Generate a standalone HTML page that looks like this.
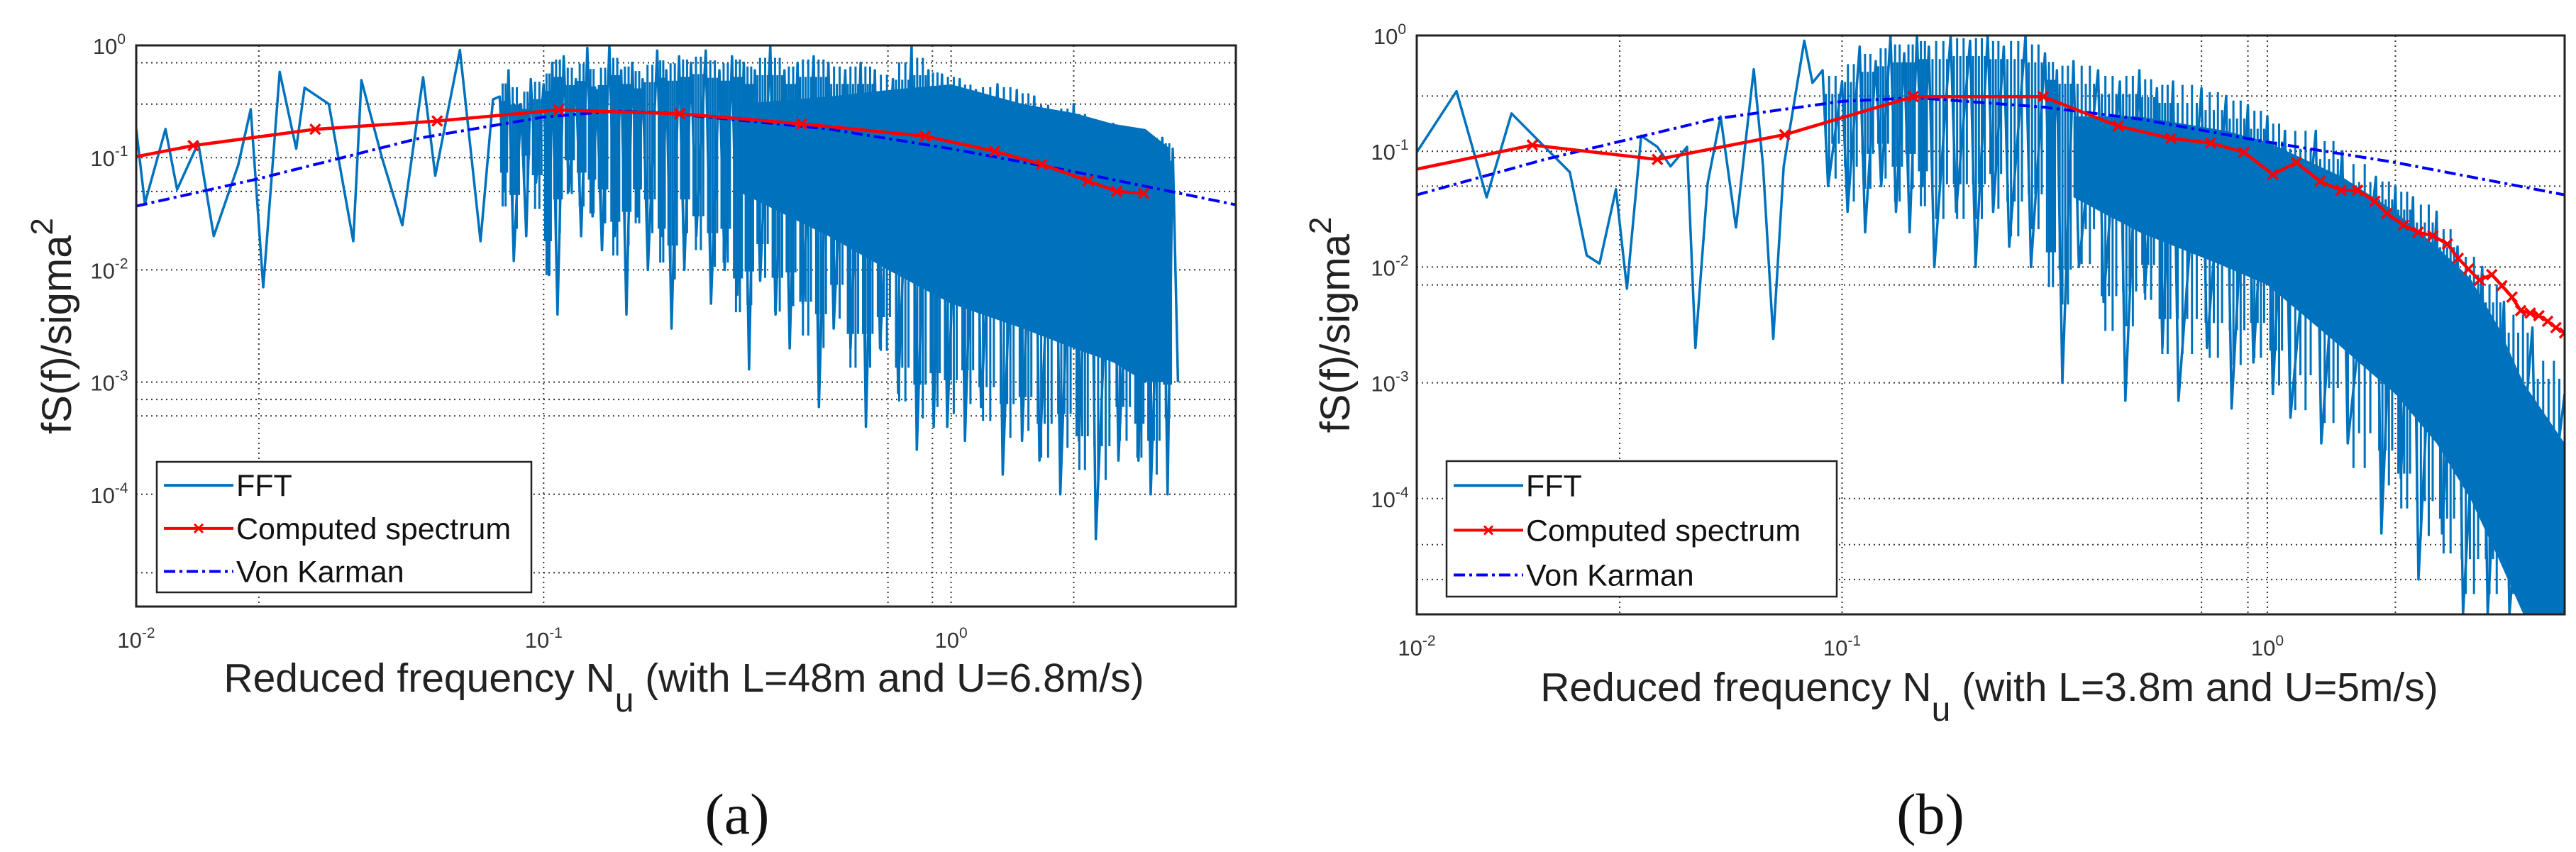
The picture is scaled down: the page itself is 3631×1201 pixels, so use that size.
<!DOCTYPE html>
<html><head><meta charset="utf-8"><style>
html,body{margin:0;padding:0;background:#fff;}
svg{display:block;font-family:"Liberation Sans",sans-serif;}
</style></head><body>
<svg id="fig" width="3631" height="1201" viewBox="0 0 3631 1201" xmlns="http://www.w3.org/2000/svg"></svg>
<script>
// ---------- Panel A data ----------
const aLowFreq=[0.01,0.0105,0.0118,0.0126,0.0142,0.0155,0.0178,0.0191,0.0205,0.0225,0.0247,0.0259,0.0297,0.0341,0.0357,0.0401,0.045,0.0506,0.0542,0.0623,0.07,0.0751];
const aLowVal=[0.18,0.039,0.18,0.052,0.135,0.02,0.086,0.27,0.007,0.58,0.12,0.42,0.3,0.018,0.49,0.10,0.025,0.52,0.069,0.91,0.018,0.33];
const aSpikeFreq=[0.078,0.082,0.088,0.093,0.1,0.105,0.112,0.12,0.128,0.135,0.145,0.155,0.165,0.175,0.19,0.2,0.215,0.23,0.25,0.27,0.29,0.31,0.33,0.36,0.39,0.42,0.46,0.5,0.55,0.6,0.65,0.72,0.8,0.88,0.95,1.05,1.15,1.3,1.45,1.6,1.8,2.0,2.2,2.5,2.8,3.0,3.3,3.5];
const aSpikeHi=[0.35,0.6,0.3,0.5,0.45,0.7,0.8,0.5,0.95,0.4,1.0,0.6,0.7,0.5,0.9,0.6,0.8,0.7,0.9,0.6,0.8,0.7,0.6,1.0,0.6,0.7,0.8,0.7,0.6,0.7,0.6,0.5,1.0,0.6,0.55,0.5,0.4,0.45,0.4,0.35,0.25,0.3,0.2,0.2,0.18,0.15,0.15,0.12];
const aSpikeLo=[0.05,0.012,0.02,0.06,0.009,0.004,0.05,0.02,0.03,0.015,0.02,0.004,0.03,0.01,0.02,0.003,0.01,0.02,0.005,0.01,0.006,0.0013,0.008,0.004,0.002,0.005,0.0006,0.003,0.002,0.0004,0.002,0.0008,0.00025,0.0004,0.0004,0.0003,0.0006,0.00015,0.0003,0.0002,0.0001,0.0003,0.00004,0.0002,0.0002,0.0001,0.0001,0.001];
const aBandFreq=[0.3,0.5,0.7,1.0,1.5,2.0,2.5,3.0,3.45];
const aBandTop=[0.3,0.35,0.4,0.45,0.3,0.25,0.2,0.18,0.12];
const aBandBot=[0.05,0.02,0.01,0.005,0.003,0.002,0.0015,0.001,0.001];
const aCompFreq=[0.01,0.0138,0.0275,0.0548,0.1088,0.216,0.43,0.864,1.28,1.67,2.17,2.55,2.97];
const aCompVal=[0.102,0.128,0.179,0.212,0.266,0.246,0.2,0.155,0.114,0.087,0.062,0.05,0.048];
const aVkFreq=[0.01,0.02,0.05,0.1,0.15,0.2,0.5,1,2,5];
const aVkVal=[0.037,0.065,0.15,0.23,0.26,0.25,0.18,0.12,0.075,0.038];
// ---------- Panel B data ----------
const bLowFreq=[0.01,0.0124,0.0146,0.0167,0.0229,0.0251,0.0269,0.0294,0.0312,0.0337,0.0368,0.0395,0.0432,0.0452,0.0483,0.0518,0.0563,0.062,0.0652,0.0689,0.0729,0.0815,0.0852];
const bLowVal=[0.098,0.33,0.04,0.212,0.066,0.0126,0.0107,0.047,0.0065,0.136,0.109,0.074,0.109,0.002,0.053,0.2,0.022,0.51,0.074,0.0024,0.074,0.9,0.39];
const bSpikeFreq=[0.09,0.1,0.11,0.12,0.13,0.14,0.15,0.16,0.18,0.2,0.22,0.24,0.27,0.3,0.32,0.35,0.4,0.45,0.5,0.55,0.6,0.7,0.8,0.9,1.0,1.1,1.3,1.5,1.8,2.0,2.2,2.5,2.8,3.2,3.6,4.2,5];
const bSpikeHi=[0.5,0.4,0.8,0.6,1,0.7,1,0.8,1,0.9,1,0.8,1,0.7,0.5,0.6,0.5,0.4,0.5,0.35,0.4,0.35,0.3,0.25,0.2,0.15,0.15,0.1,0.06,0.05,0.04,0.03,0.015,0.01,0.005,0.003,0.0008];
const bSpikeLo=[0.05,0.03,0.02,0.05,0.03,0.02,0.05,0.01,0.03,0.01,0.03,0.015,0.01,0.02,0.001,0.01,0.005,0.0007,0.006,0.002,0.0007,0.002,0.0006,0.0015,0.0008,0.0005,0.0003,0.0003,0.00005,0.00015,0.00002,0.00005,0.00001,0.00001,0.00001,0.00001,0.00001];
const bBandFreq=[0.35,0.5,0.8,1.0,1.5,2,2.5,3,3.5,4,5];
const bBandTop=[0.2,0.2,0.15,0.12,0.06,0.03,0.015,0.008,0.003,0.001,0.0003];
const bBandBot=[0.04,0.02,0.01,0.007,0.002,0.0008,0.0003,0.0001,0.00003,0.00001,0.00001];
const bCompFreq=[0.01,0.0187,0.0368,0.0733,0.147,0.297,0.446,0.593,0.736,0.881,1.03,1.17,1.33,1.49,1.63,1.79,1.91,2.09,2.26,2.45,2.65,2.81,2.97,3.15,3.37,3.56,3.76,3.94,4.15,4.35,4.56,4.77,5.0];
const bCompVal=[0.070,0.113,0.085,0.139,0.296,0.296,0.165,0.129,0.118,0.098,0.063,0.080,0.055,0.046,0.046,0.037,0.029,0.023,0.020,0.0186,0.0158,0.0119,0.0096,0.0077,0.0086,0.0069,0.0055,0.0042,0.0040,0.0038,0.0034,0.0030,0.0027];
const bVkFreq=[0.01,0.02,0.05,0.1,0.15,0.3,0.5,1,2,5];
const bVkVal=[0.042,0.085,0.19,0.27,0.29,0.24,0.19,0.12,0.08,0.042];
const xTickVals=[0.01,0.1,1];
const xTickLabels=["-2","-1","0"];
const yTickVals=[1,0.1,0.01,0.001,0.0001];
const yTickLabels=["0","-1","-2","-3","-4"];

const NS="http://www.w3.org/2000/svg";
const svg=document.getElementById('fig');
function mk(tag,attrs,parent){const e=document.createElementNS(NS,tag);for(const k in attrs)e.setAttribute(k,attrs[k]);(parent||svg).appendChild(e);return e;}

function panel(P){
  const g=mk('g',{});
  
  
  const X=f=>P.L+(Math.log10(f)+2)/(Math.log10(5)+2)*(P.R-P.L);
  const Y=v=>P.T+(-Math.log10(v))/5*(P.B-P.T);
  const clipId=P.name+'-clip';
  const cp=mk('clipPath',{id:clipId},g);mk('rect',{x:P.L,y:P.T,width:P.R-P.L,height:P.B-P.T},cp);
  P.gx.forEach(f=>{const l=mk('line',{x1:X(f),x2:X(f),y1:P.T,y2:P.B,stroke:'#333','stroke-width':2,'stroke-dasharray':'2,5'},g);
    });
  P.gy.forEach(v=>{const l=mk('line',{x1:P.L,x2:P.R,y1:Y(v),y2:Y(v),stroke:'#333','stroke-width':2,'stroke-dasharray':'2,5'},g);
    });
  const d=mk('g',{'clip-path':'url(#'+clipId+')'},g);
  let pts=[];P.bandF.forEach((f,i)=>pts.push(X(f)+','+Y(P.bandT[i])));
  for(let i=P.bandF.length-1;i>=0;i--)pts.push(X(P.bandF[i])+','+Y(P.bandB[i]));
  const band=mk('polygon',{points:pts.join(' '),fill:'#0072BD'},d);
  
  let lp=P.lowF.map((f,i)=>X(f)+','+Y(P.lowV[i]));
  P.spF.forEach((f,i)=>{const x=X(f);const w=(X(f*1.03)-x);lp.push(x+','+Y(P.spH[i]));lp.push((x+w)+','+Y(P.spL[i]));});
  const fft=mk('polyline',{points:lp.join(' '),fill:'none',stroke:'#0072BD','stroke-width':3.5,'stroke-linejoin':'round'},d);
  
  for(let i=0;i<P.spF.length-1;i++){
    const f0=P.spF[i],f1=P.spF[i+1];
    for(let k=1;k<6;k++){const f=f0*Math.pow(f1/f0,k/6);
      const hi=Math.sqrt(P.spH[i]*P.spH[i+1])*(k%2?0.7:1);const lo=Math.sqrt(P.spL[i]*P.spL[i+1])*(k%2?3:1.5);
      const s=mk('line',{x1:X(f),x2:X(f),y1:Y(hi),y2:Y(lo),stroke:'#0072BD','stroke-width':3},d);
      }
  }
  const vk=mk('polyline',{points:P.vkF.map((f,i)=>X(f)+','+Y(P.vkV[i])).join(' '),fill:'none',stroke:'#0000FF','stroke-width':4,'stroke-dasharray':'16,6,4,6'},d);
  
  const cs=mk('polyline',{points:P.cF.map((f,i)=>X(f)+','+Y(P.cV[i])).join(' '),fill:'none',stroke:'#FF0000','stroke-width':4.5},d);
  
  P.cF.forEach((f,i)=>{if(i===0)return;const x=X(f),y=Y(P.cV[i]);
    const m=mk('path',{d:`M${x-7},${y-7}L${x+7},${y+7}M${x-7},${y+7}L${x+7},${y-7}`,stroke:'#FF0000','stroke-width':3.5},d);
    });
  const box=mk('rect',{x:P.L,y:P.T,width:P.R-P.L,height:P.B-P.T,fill:'none',stroke:'#222','stroke-width':3},g);
  
  xTickVals.forEach((f,i)=>{const t=mk('text',{x:X(f),y:P.B+58,'text-anchor':'middle','font-size':31,fill:'#333'},g);
    
    t.innerHTML='10<tspan dy="-14" font-size="21">'+xTickLabels[i]+'</tspan>';});
  yTickVals.forEach((v,i)=>{const t=mk('text',{x:P.L-38,y:Y(v)+12,'text-anchor':'middle','font-size':31,fill:'#333'},g);
    
    t.innerHTML='10<tspan dy="-14" font-size="21">'+yTickLabels[i]+'</tspan>';});
  const xl=mk('text',{x:P.xlx,y:P.xly,'text-anchor':'middle','font-size':57,fill:'#222'},g);
  
  xl.innerHTML='Reduced frequency N<tspan dy="28" font-size="48">u</tspan><tspan dy="-28"> (with '+P.xlt+')</tspan>';
  const yl=mk('text',{x:0,y:0,'text-anchor':'middle','font-size':58,fill:'#222',transform:`translate(${P.ylx},${(P.T+P.B)/2}) rotate(-90)`},g);
  
  yl.innerHTML='fS(f)/sigma<tspan dy="-26" font-size="44">2</tspan>';
  const lg=mk('g',{},g);
  const [lx,ly,lw,lh]=P.leg;
  mk('rect',{x:lx,y:ly,width:lw,height:lh,fill:'#fff',stroke:'#222','stroke-width':2.5},lg);
  const ent=[['FFT','#0072BD','',false],['Computed spectrum','#FF0000','',true],['Von Karman','#0000FF','16,6,4,6',false]];
  ent.forEach((e,i)=>{const yy=ly+lh*(0.18+0.33*i);
    const eg=mk('g',{},lg);
    mk('line',{x1:lx+10,x2:lx+108,y1:yy,y2:yy,stroke:e[1],'stroke-width':4,'stroke-dasharray':e[2]||'none'},eg);
    if(e[3])mk('path',{d:`M${lx+53},${yy-6}L${lx+65},${yy+6}M${lx+53},${yy+6}L${lx+65},${yy-6}`,stroke:e[1],'stroke-width':3},eg);
    const t=mk('text',{x:lx+112,y:yy+15,'font-size':43,fill:'#111'},eg);t.textContent=e[0];});
  const cap=mk('text',{x:P.capx,y:1175,'text-anchor':'middle','font-size':82,fill:'#111','font-family':'"Liberation Serif",serif'},g);
  cap.textContent=P.cap;
}
panel({name:'panel-a',L:192,R:1742,T:64,B:855,gx:[0.02,0.1,0.7,0.9,1,2],gy:[0.7,0.3,0.1,0.05,0.01,0.001,0.0007,0.0005,0.0001,0.00002],
  lowF:aLowFreq,lowV:aLowVal,spF:aSpikeFreq,spH:aSpikeHi,spL:aSpikeLo,bandF:aBandFreq,bandT:aBandTop,bandB:aBandBot,
  cF:aCompFreq,cV:aCompVal,vkF:aVkFreq,vkV:aVkVal,xlx:964,xly:975,xlt:'L=48m and U=6.8m/s',ylx:100,leg:[221,651,528,184],capx:1039,cap:'(a)'});
panel({name:'panel-b',L:1997,R:3615,T:50,B:866,gx:[0.03,0.1,0.7,0.9,1,2],gy:[0.3,0.1,0.05,0.01,0.007,0.001,0.0001,0.00004,0.00002],
  lowF:bLowFreq,lowV:bLowVal,spF:bSpikeFreq,spH:bSpikeHi,spL:bSpikeLo,bandF:bBandFreq,bandT:bBandTop,bandB:bBandBot,
  cF:bCompFreq,cV:bCompVal,vkF:bVkFreq,vkV:bVkVal,xlx:2804,xly:988,xlt:'L=3.8m and U=5m/s',ylx:1902,leg:[2039,650,550,191],capx:2721,cap:'(b)'});
</script>
</body></html>
